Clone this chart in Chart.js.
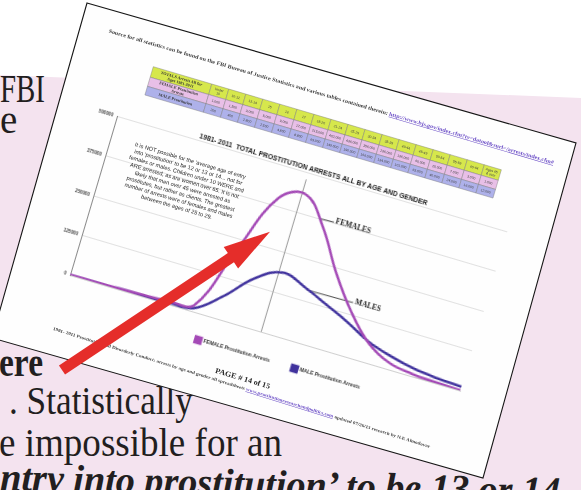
<!DOCTYPE html>
<html>
<head>
<meta charset="utf-8">
<script src="https://cdn.jsdelivr.net/npm/chart.js@4.4.1/dist/chart.umd.min.js"></script>
<style>
html,body{margin:0;padding:0;background:#fff;}
#stage{position:relative;width:581px;height:490px;overflow:hidden;background:#fff;}
svg.layer{position:absolute;left:0;top:0;overflow:visible;}
#frame{position:absolute;left:70px;top:275px;width:0;height:0;transform:rotate(16.5deg);transform-origin:0 0;}
#box{position:absolute;left:-28px;top:-178px;width:504px;height:217px;}
#c{display:block;}
</style>
</head>
<body>
<div id="stage">
  <svg class="layer" width="581" height="490">
    <polygon points="0,75 581,98 581,490 0,490" fill="#f4e3ef"/>
    <g font-family="'Liberation Serif','Times New Roman',serif" font-size="39" fill="#221e20">
      <text x="0" y="102" textLength="45" lengthAdjust="spacingAndGlyphs">FBI</text>
      <text x="0" y="133">e</text>
      <text x="-1" y="376" font-weight="bold" textLength="44" lengthAdjust="spacingAndGlyphs">ere</text>
      <text x="9" y="414" textLength="184" lengthAdjust="spacingAndGlyphs">. Statistically</text>
      <text x="-1" y="456" textLength="283" lengthAdjust="spacingAndGlyphs">e impossible for an</text>
      <text x="0" y="490" transform="rotate(1.44 0 490)" font-weight="bold" font-style="italic" textLength="560" lengthAdjust="spacingAndGlyphs">ntry into prostitution’ to be 13 or 14</text>
    </g>
    <polygon points="87,3 576,143 483,478 -8,338" fill="#fefefe" stroke="#161616" stroke-width="1.1"/>
  </svg>
  <div id="frame"><div id="box"><canvas id="c" width="504" height="217"></canvas></div></div>
  <svg class="layer" width="581" height="490">
    <g id="paper" transform="translate(70 275) rotate(16.5)"></g>
    <polygon points="65.05,374.58 233.95,262.28 238.1,268.5 270,231.7 223.7,246.9 227.85,253.12 58.95,365.42" fill="#e52d2a"/>
  </svg>
</div>
<script>
// ---------- data ----------
const categories = ["Under 10","10-12","13-14","15","16","17","18-20","21-24","25-29","30-34","35-39","40-44","45-49","50-54","55-59","60-64","Ages 65 & over"];
const femaleArrests = [1000,1500,3000,5000,9000,17000,215000,402000,436000,356000,236000,136000,60000,20000,7000,3000,1000];
const maleArrests   = [200,400,2800,2500,4800,8800,69000,149000,190000,166000,134000,101000,63000,40000,24000,16000,12000];
const yTicks = [0,125000,250000,375000,500000];
const seriesNames = ["FEMALE Prostitution Arrests","MALE Prostitution Arrests"];
const chartTitle = "1981- 2011  TOTAL PROSTITUTION ARRESTS ALL BY AGE AND GENDER";
const rowTitles = [["TOTALS Arrests All for","Ages 1981-2011"],["FEMALE Prostitution","Arrests"],["MALE Prostitution"]];
const noteLines = [
  "It is NOT possible for the 'average age of entry",
  "into 'prostitution' to be 12 or 13 or 14... not for",
  "females or males. Children under 10 WERE and",
  "ARE arrested, as are women over 65. It is not",
  "likely that men over 45 were arrested as",
  "prostitutes, but rather as clients. The greatest",
  "number of arrests were of females and males",
  "between the ages of 25 to 29."
];
const sourceText = "Source for all statistics can be found on the FBI Bureau of Justice Statistics and various tables contained therein: ";
const sourceLink = "http://www.bjs.gov/index.cfm?ty=datool&surl=/arrests/index.cfm#";
const footerText = "1981- 2011 Prostitution and Disorderly Conduct: arrests by age and gender all spreadsheets ";
const footerLink = "www.prostitutionresearchandpolitics.com";
const footerTail = "  updated 07/26/13  research by N.E Almodovar";
const pageText = "PAGE # 14 of 15";

// annotation anchors in data units (category index, arrests)
const dividerLine = {index:7.84, from:0, to:480000};
const curveNotes = [
  {text:"FEMALES", from:[8.80,378000], to:[9.36,380000], at:[9.42,383000]},
  {text:"MALES", from:[9.10,160000], to:[10.98,163000], at:[11.05,166000]}
];

// ---------- chart ----------
const notesPlugin = {
  id:'notes',
  beforeDatasetsDraw(chart){
    const {ctx, scales:{x,y}} = chart;
    ctx.save();
    ctx.strokeStyle='#9a9a9a'; ctx.lineWidth=1;
    const vx = x.getPixelForValue(dividerLine.index);
    ctx.beginPath(); ctx.moveTo(vx, y.getPixelForValue(dividerLine.from)); ctx.lineTo(vx, y.getPixelForValue(dividerLine.to)); ctx.stroke();
    ctx.strokeStyle='#3a3a3a'; ctx.lineWidth=0.9;
    ctx.fillStyle='#1e1e1e'; ctx.font='bold 7.5px "Liberation Serif"'; ctx.textBaseline='middle'; ctx.textAlign='left';
    curveNotes.forEach(n=>{
      ctx.beginPath();
      ctx.moveTo(x.getPixelForValue(n.from[0]), y.getPixelForValue(n.from[1]));
      ctx.lineTo(x.getPixelForValue(n.to[0]), y.getPixelForValue(n.to[1]));
      ctx.stroke();
      ctx.fillText(n.text, x.getPixelForValue(n.at[0]), y.getPixelForValue(n.at[1]));
    });
    ctx.restore();
  }
};

new Chart(document.getElementById('c'), {
  type:'line',
  data:{
    labels:categories,
    datasets:[
      {label:seriesNames[0], data:femaleArrests, borderColor:'#a44ab6', backgroundColor:'#a44ab6', borderWidth:2.5, pointRadius:0, tension:0.4, fill:false},
      {label:seriesNames[1], data:maleArrests, borderColor:'#40329d', backgroundColor:'#40329d', borderWidth:2.5, pointRadius:0, tension:0.4, fill:false}
    ]
  },
  options:{
    responsive:false, animation:false, devicePixelRatio:1,
    layout:{padding:0},
    plugins:{
      legend:{position:'bottom', labels:{boxWidth:6, boxHeight:6, padding:23, color:'#333', font:{size:5, weight:'bold', family:'Liberation Sans'}}},
      title:{display:true, fullSize:false, text:chartTitle, color:'#1a1a1a', padding:{top:4, bottom:0.5}, font:{size:6.8, weight:'bold', family:'Liberation Sans', lineHeight:1.2}},
      tooltip:{enabled:false}
    },
    scales:{
      x:{
        grid:{display:false, drawTicks:false},
        border:{display:true, color:'#d0d0d0'},
        ticks:{autoSkip:false, maxRotation:0, minRotation:0, padding:8, color:'#444', font:{size:4.3, weight:'bold', family:'Liberation Sans'}},
        afterFit(s){ s.height = 0; }
      },
      y:{
        min:0, max:500000,
        afterBuildTicks(s){ s.ticks = yTicks.map(v=>({value:v})); },
        grid:{color:'#d9d9d9', lineWidth:0.8, drawTicks:false},
        border:{display:true, color:'#8a8a8a', width:1},
        ticks:{padding:4, color:'#444', font:{size:4.5, weight:'bold', family:'Liberation Sans'}, callback:v=>String(v)},
        afterFit(s){ s.width = 28; }
      },
      y2:{
        position:'right', min:0, max:1,
        grid:{display:false, drawTicks:false}, border:{display:false}, ticks:{display:false},
        afterFit(s){ s.width = 69; }
      }
    }
  },
  plugins:[notesPlugin]
});

// ---------- paper page texts & table (SVG) ----------
const NS='http://www.w3.org/2000/svg';
function el(tag, attrs, parent, text){
  const e=document.createElementNS(NS,tag);
  for(const k in attrs) e.setAttribute(k, attrs[k]);
  if(text!=null) e.textContent=text;
  parent.appendChild(e); return e;
}
const paper=document.getElementById('paper');
const serif="Liberation Serif", sans="Liberation Sans";

const src=el('text',{x:-32,y:-243.5,'font-family':serif,'font-weight':'bold','font-size':5.4,fill:'#3a3a3a',textLength:464,lengthAdjust:'spacingAndGlyphs'},paper);
el('tspan',{},src,sourceText);
el('tspan',{fill:'#6a4cc6','text-decoration':'underline'},src,sourceLink);

// table
(function(){
  const X0=20.7, Y0=-223.4, leftW=61, totalW=363, rowH=[11,9.5,9];
  const colW=(totalW-leftW)/categories.length;
  const fills=['#d6e74c','#e8bfe7','#aeb1ea'];
  const rows=[categories, femaleArrests.map(v=>v.toLocaleString('en-US')), maleArrests.map(v=>v.toLocaleString('en-US'))];
  let y=Y0;
  rowH.forEach((h,r)=>{
    el('rect',{x:X0,y:y,width:leftW,height:h,fill:fills[r],stroke:'#7a7a7a','stroke-width':0.4},paper);
    const tl=rowTitles[r];
    tl.forEach((t,k)=>{
      el('text',{x:X0+leftW/2,y:y+h/2+1.4+(k-(tl.length-1)/2)*4.3,'text-anchor':'middle','font-family':serif,'font-weight':'bold','font-size':4.2,fill:'#333'},paper,t);
    });
    rows[r].forEach((v,i)=>{
      const cx=X0+leftW+i*colW;
      el('rect',{x:cx,y:y,width:colW,height:h,fill:fills[r],stroke:'#7a7a7a','stroke-width':0.4},paper);
      let parts=[String(v)];
      if(r===0 && v==="Under 10") parts=["Under","10"];
      if(r===0 && v==="Ages 65 & over") parts=["Ages 65","& over"];
      parts.forEach((t,k)=>{
        el('text',{x:cx+colW/2,y:y+h/2+1.2+(k-(parts.length-1)/2)*3.8,'text-anchor':'middle','font-family':sans,'font-size':3.4,fill:'#444'},paper,t);
      });
    });
    y+=h;
  });
})();

// note block
noteLines.forEach((t,k)=>{
  el('text',{x:83,y:-142+k*6.9,'text-anchor':'middle','font-family':sans,'font-size':5.6,fill:'#262626'},paper,t);
});

// page label and footer
el('text',{x:195,y:52.5,'text-anchor':'middle','font-family':serif,'font-weight':'bold','font-size':7.5,fill:'#2a2a2a',textLength:57,lengthAdjust:'spacingAndGlyphs'},paper,pageText);
const ft=el('text',{x:-1,y:57.5,transform:'rotate(0.9 -1 57.5)','font-family':serif,'font-weight':'bold','font-size':4.4,fill:'#444',textLength:395,lengthAdjust:'spacingAndGlyphs'},paper);
el('tspan',{},ft,footerText);
el('tspan',{fill:'#6a4cc6','text-decoration':'underline'},ft,footerLink);
el('tspan',{},ft,footerTail);
</script>
</body>
</html>
